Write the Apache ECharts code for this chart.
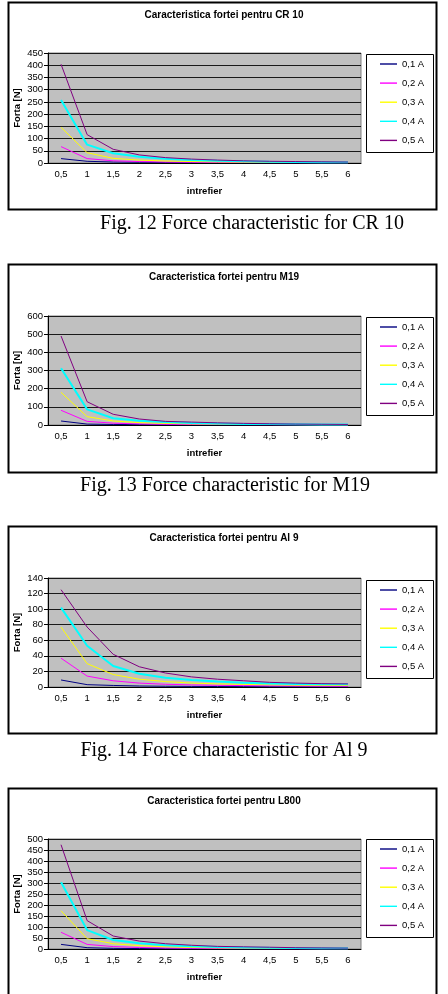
<!DOCTYPE html>
<html>
<head>
<meta charset="utf-8">
<title>Caracteristica fortei</title>
<script src="https://cdn.jsdelivr.net/npm/echarts@6/dist/echarts.min.js"></script>
<style>
    html, body { margin: 0; padding: 0; background: #fff; }
    #main { width: 448px; height: 994px; }
</style>
</head>
<body>
<div id="main"></div>
<script>
    // date
    var categories = ['0,5', '1', '1,5', '2', '2,5', '3', '3,5', '4', '4,5', '5', '5,5', '6'];
    var seriesNames = ['0,1 A', '0,2 A', '0,3 A', '0,4 A', '0,5 A'];
    var seriesColors = ['#000080', '#FF00FF', '#FFFF00', '#00FFFF', '#800080'];

    var titles = ['Caracteristica fortei pentru CR 10', 'Caracteristica fortei pentru M19',
                  'Caracteristica fortei pentru Al 9', 'Caracteristica fortei pentru L800'];
    var captions = ['Fig. 12 Force characteristic for CR 10', 'Fig. 13 Force characteristic for M19',
                    'Fig. 14 Force characteristic for Al 9'];
    var yMax = [450, 600, 140, 500];
    var yStep = [50, 100, 20, 50];

    // CR 10
    var cr10 = [
        [18, 7, 4, 3, 2, 2, 1.5, 1.2, 1, 0.8, 0.7, 0.6],
        [67, 18, 9, 6, 4, 3, 2.5, 2, 1.5, 1.3, 1.1, 1],
        [146, 42, 19, 12, 8, 6, 4.5, 3.5, 3, 2.5, 2, 2],
        [258, 75, 40, 26, 17, 12, 9, 7, 5.5, 4.5, 3.5, 3],
        [404, 116, 56, 33, 22, 16, 12, 9, 7, 6, 5, 4]
    ];
    // M19
    var m19 = [
        [22, 5, 3, 2, 1.5, 1, 1, 0.8, 0.6, 0.5, 0.4, 0.4],
        [81, 20, 10, 6, 4, 3, 2.5, 2, 1.5, 1.2, 1, 1],
        [180, 46, 22, 13, 9, 6, 5, 4, 3, 2.5, 2, 2],
        [312, 86, 37, 24, 16, 11, 8, 6, 5, 4, 3, 3],
        [490, 128, 59, 33, 20, 16, 12, 9, 7, 5, 4, 3]
    ];
    // Al 9
    var al9 = [
        [9, 3, 2, 1.3, 1, 0.8, 0.6, 0.5, 0.4, 0.4, 0.3, 0.3],
        [37, 14, 8, 5, 3.5, 2.7, 2.2, 1.8, 1.5, 1.3, 1.1, 1],
        [77, 30, 16, 10, 7, 5, 4, 3.3, 2.8, 2.4, 2.1, 2],
        [102, 53, 27, 17, 12, 9, 7, 5.5, 4.5, 4, 3.5, 3.5],
        [125, 77, 42, 26, 18, 13, 10, 8, 6, 5, 4.3, 4]
    ];
    // L800
    var l800 = [
        [21, 6, 3, 2, 1.5, 1, 1, 0.8, 0.6, 0.5, 0.4, 0.4],
        [76, 21, 11, 7, 4.5, 3.3, 2.5, 2, 1.6, 1.3, 1.1, 1],
        [174, 47, 24, 15, 10, 7, 5, 4, 3.3, 2.7, 2.3, 2],
        [303, 86, 41, 26, 17, 12, 9, 7, 5.5, 4.5, 3.7, 3],
        [474, 129, 59, 36, 24, 17, 12, 10, 8, 6, 5, 4]
    ];
    var allData = [cr10, m19, al9, l800];

    // pozitii (px)
    var frameTop = [2, 264, 526, 788];
    var frameBottom = [209, 472, 733, 1010];
    var titleTop = [10, 272, 533, 796];
    var gridTop = [53, 316, 578, 839];
    var gridHeight = [110, 109, 109, 110];
    var legendBoxTop = [54, 317, 580, 839];
    var captionX = [252, 225, 224];
    var captionY = [224, 486, 751];

    var font = 'Liberation Sans';
    var myChart = echarts.init(document.getElementById('main'), null, {renderer: 'canvas'});

    var option = {
        animation: false,
        backgroundColor: '#fff',
        title: [], legend: [], grid: [], xAxis: [], yAxis: [], series: [], graphic: []
    };

    for (var k = 0; k < 4; k++) {
        // rama
        option.graphic.push({
            type: 'rect', silent: true,
            shape: {x: 8.5, y: frameTop[k] + 0.5, width: 428, height: frameBottom[k] - frameTop[k]},
            style: {fill: null, stroke: '#000', lineWidth: 2}
        });
        // chenar legenda
        option.graphic.push({
            type: 'rect', silent: true,
            shape: {x: 366.5, y: legendBoxTop[k] + 0.5, width: 67, height: 98},
            style: {fill: '#fff', stroke: '#000', lineWidth: 1}
        });
        if (k < 3) {
            option.graphic.push({
                type: 'text', silent: true, x: captionX[k], y: captionY[k],
                style: {text: captions[k], fill: '#000', font: '20px "Liberation Serif"',
                        align: 'center', verticalAlign: 'middle'}
            });
        }
        option.title.push({
            text: titles[k], left: 'center', top: titleTop[k], padding: 0,
            textStyle: {fontFamily: font, fontSize: 10, fontWeight: 'bold', color: '#000'}
        });
        option.legend.push({
            data: seriesNames, orient: 'vertical', left: 380, top: legendBoxTop[k] + 5,
            padding: 0, itemWidth: 17, itemHeight: 9, itemGap: 9.1,
            icon: 'path://M0,0 H17 V1.4 H0 Z',
            textStyle: {fontFamily: font, fontSize: 9.5, color: '#000'}
        });
        option.grid.push({
            left: 48, top: gridTop[k], width: 313, height: gridHeight[k],
            show: true, backgroundColor: '#C0C0C0', borderColor: '#808080', borderWidth: 1
        });
        option.xAxis.push({
            type: 'category', gridIndex: k, data: categories, boundaryGap: true,
            name: 'intrefier', nameLocation: 'middle', nameGap: 23,
            nameTextStyle: {fontFamily: font, fontSize: 9.5, fontWeight: 'bold', color: '#000'},
            axisLine: {lineStyle: {color: '#000', width: 1}},
            axisTick: {interval: 0, length: 4, lineStyle: {color: '#000'}},
            axisLabel: {interval: 0, margin: 6, fontFamily: font, fontSize: 9.5, color: '#000'},
            splitLine: {show: false}
        });
        option.yAxis.push({
            type: 'value', gridIndex: k, min: 0, max: yMax[k], interval: yStep[k],
            name: 'Forta [N]', nameLocation: 'middle', nameGap: 26, nameRotate: 90,
            nameMoveOverlap: false,
            nameTextStyle: {fontFamily: font, fontSize: 9.5, fontWeight: 'bold', color: '#000'},
            axisLine: {show: true, lineStyle: {color: '#000', width: 1}},
            axisTick: {show: true, length: 4, lineStyle: {color: '#000'}},
            axisLabel: {margin: 5, fontFamily: font, fontSize: 9.5, color: '#000'},
            splitLine: {lineStyle: {color: '#1a1a1a', width: 1}}
        });
        for (var s = 0; s < 5; s++) {
            option.series.push({
                name: seriesNames[s], type: 'line', xAxisIndex: k, yAxisIndex: k,
                data: allData[k][s], showSymbol: false, symbol: 'none', smooth: false,
                color: seriesColors[s],
                lineStyle: {color: seriesColors[s], width: s == 3 ? 2 : 1},
                itemStyle: {color: seriesColors[s]}
            });
        }
    }

    myChart.setOption(option);
</script>
</body>
</html>
